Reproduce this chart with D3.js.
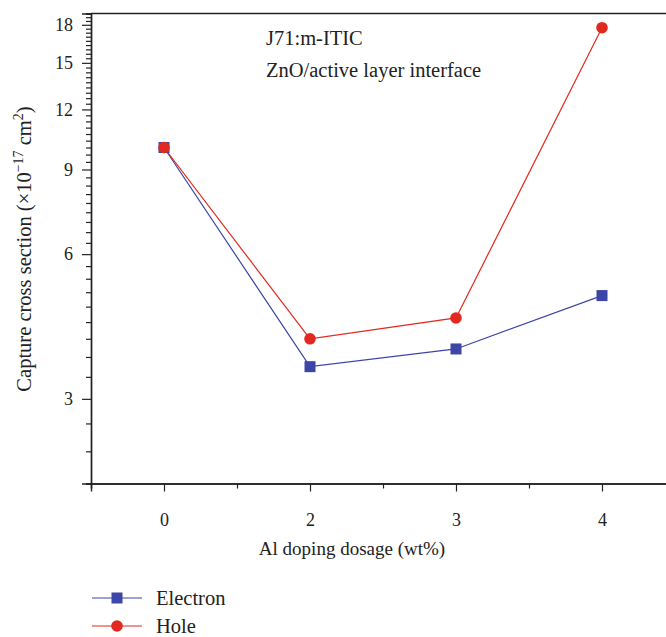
<!DOCTYPE html>
<html>
<head>
<meta charset="utf-8">
<script src="https://cdn.jsdelivr.net/npm/d3@7"></script>
<style>
  html, body { margin: 0; padding: 0; background: #fff; }
  svg { display: block; }
  text { font-family: "Liberation Serif", "DejaVu Serif", serif; fill: #222; }
</style>
</head>
<body>
<svg id="chart" width="666" height="637"></svg>
<script>
// ---- data ----
const categories = ["0", "2", "3", "4"];          // Al doping dosage (wt%)
const electron = [10.0, 3.5, 3.81, 4.92];
const hole = [10.0, 4.0, 4.42, 17.75];
const yMajorTicks = [3, 6, 9, 12, 15, 18];
const seriesNames = ["Electron", "Hole"];

// ---- layout ----
const svg = d3.select("#chart");
const W = 666, H = 637;
const plotLeft = 91, plotTop = 13.5, plotBottom = 483.5;
const blue = "#3c46a6", red = "#e2291f";

const x = d3.scaleLinear().domain([-0.5, 4.5]).range([plotLeft, plotLeft + 730]);
const y = d3.scaleLog().domain([2, 19]).range([plotBottom, plotTop]);

// minor ticks every 1/3
const minorY = d3.range(6, 58).map(i => i / 3).filter(v => Math.abs(v - Math.round(v)) > 1e-6 || Math.round(v) % 3 !== 0);
const minorX = [-0.5, 0.5, 1.5, 2.5, 3.5];

// top frame line
svg.append("line").attr("x1", plotLeft).attr("x2", W).attr("y1", plotTop).attr("y2", plotTop)
  .attr("stroke", "#222").attr("stroke-width", 1.4);

// Y axis
const gy = svg.append("g").attr("transform", `translate(${plotLeft},0)`);
gy.call(d3.axisLeft(y).tickValues(minorY).tickSize(5).tickFormat(""));
const gy2 = svg.append("g").attr("transform", `translate(${plotLeft},0)`);
gy2.call(d3.axisLeft(y).tickValues(yMajorTicks).tickSize(9).tickPadding(9).tickFormat(d3.format("d")));

// X axis
const gx = svg.append("g").attr("transform", `translate(0,${plotBottom})`);
gx.call(d3.axisBottom(x).tickValues(minorX).tickSize(5).tickFormat(""));
const gx2 = svg.append("g").attr("transform", `translate(0,${plotBottom})`);
gx2.call(d3.axisBottom(x).tickValues(categories.map((c, i) => i)).tickSize(8).tickPadding(22)
  .tickFormat(i => categories[i]));

svg.selectAll("g").attr("font-family", null);
svg.selectAll("path.domain").attr("stroke", "#222").attr("stroke-width", 1.4);
svg.selectAll(".tick line").attr("stroke", "#222").attr("stroke-width", 1.2);
svg.selectAll(".tick text").style("font-size", "18px").attr("fill", "#222");

// axis titles
svg.append("text").attr("x", 352).attr("y", 555).attr("text-anchor", "middle")
  .style("font-size", "19px").text("Al doping dosage (wt%)");

const yt = svg.append("text").attr("transform", "translate(31,249) rotate(-90)")
  .attr("text-anchor", "middle").style("font-size", "20.5px");
yt.append("tspan").text("Capture cross section (×10");
yt.append("tspan").attr("dy", -8).style("font-size", "14px").text("−17");
yt.append("tspan").attr("dy", 8).text(" cm");
yt.append("tspan").attr("dy", -8).style("font-size", "14px").text("2");
yt.append("tspan").attr("dy", 8).text(")");

// annotations
svg.append("text").attr("x", 266).attr("y", 45).style("font-size", "20.5px").text("J71:m-ITIC");
svg.append("text").attr("x", 266).attr("y", 77).style("font-size", "20.5px").text("ZnO/active layer interface");

// lines
const line = d3.line().x((d, i) => x(i)).y(d => y(d));
svg.append("path").datum(electron).attr("d", line).attr("fill", "none")
  .attr("stroke", blue).attr("stroke-width", 1.2);
svg.append("path").datum(hole).attr("d", line).attr("fill", "none")
  .attr("stroke", red).attr("stroke-width", 1.2);

// markers
const sq = 11;
svg.selectAll("rect.e").data(electron).enter().append("rect")
  .attr("x", (d, i) => x(i) - sq / 2).attr("y", d => y(d) - sq / 2)
  .attr("width", sq).attr("height", sq).attr("fill", blue);
svg.selectAll("circle.h").data(hole).enter().append("circle")
  .attr("cx", (d, i) => x(i)).attr("cy", d => y(d)).attr("r", 5.8).attr("fill", red);

// legend
const leg = [{ name: seriesNames[0], color: blue, shape: "square", y: 598 },
             { name: seriesNames[1], color: red, shape: "circle", y: 626 }];
leg.forEach(l => {
  svg.append("line").attr("x1", 92).attr("x2", 142).attr("y1", l.y).attr("y2", l.y)
    .attr("stroke", l.color).attr("stroke-width", 1.2);
  if (l.shape === "square") {
    svg.append("rect").attr("x", 117 - sq / 2).attr("y", l.y - sq / 2).attr("width", sq).attr("height", sq).attr("fill", l.color);
  } else {
    svg.append("circle").attr("cx", 117).attr("cy", l.y).attr("r", 5.8).attr("fill", l.color);
  }
  svg.append("text").attr("x", 156).attr("y", l.y + 7).style("font-size", "20.5px").text(l.name);
});
</script>
</body>
</html>
